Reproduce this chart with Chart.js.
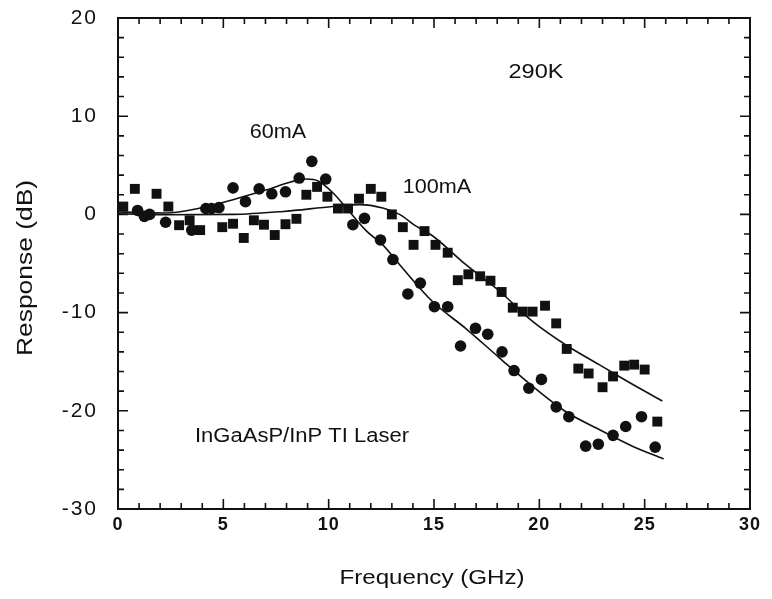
<!DOCTYPE html>
<html lang="en">
<head>
  <meta charset="UTF-8">
  <title>InGaAsP/InP TI Laser - Modulation Response</title>
  <script src="https://cdnjs.cloudflare.com/ajax/libs/Chart.js/4.4.1/chart.umd.min.js"></script>
  <style>
    body { margin: 0; background: #ffffff; }
    #wrap { width: 772px; height: 599px; }
  </style>
</head>
<body>
  <div id="wrap"><canvas id="responseChart" width="772" height="599"></canvas></div>

  <script>
    // Measured response, 60 mA (circles)
    const freq60 = [0.93, 1.25, 1.5, 2.26, 3.5, 4.17, 4.44, 4.79, 5.46, 6.05, 6.7, 7.3, 7.95, 8.6, 9.2, 9.86,
      11.15, 11.7, 12.46, 13.05, 13.76, 14.35, 15.02, 15.65, 16.26, 16.97, 17.55, 18.23, 18.8, 19.5,
      20.1, 20.8, 21.4, 22.2, 22.8, 23.5, 24.1, 24.85, 25.5];
    const resp60 = [0.4, -0.2, 0.0, -0.8, -1.6, 0.6, 0.6, 0.7, 2.7, 1.3, 2.6, 2.1, 2.3, 3.7, 5.4, 3.6,
      -1.05, -0.4, -2.6, -4.6, -8.1, -7.0, -9.4, -9.4, -13.4, -11.6, -12.2, -14.0, -15.9, -17.7,
      -16.8, -19.6, -20.6, -23.6, -23.4, -22.5, -21.6, -20.6, -23.7];

    // Measured response, 100 mA (squares)
    const freq100 = [0.25, 0.8, 1.83, 2.39, 2.9, 3.4, 3.9, 4.95, 5.46, 5.97, 6.45, 6.93, 7.44, 7.95, 8.47,
      8.94, 9.45, 9.94, 10.44, 10.92, 11.44, 12.0, 12.5, 13.0, 13.52, 14.03, 14.55, 15.07, 15.65, 16.13,
      16.63, 17.19, 17.68, 18.21, 18.74, 19.21, 19.68, 20.27, 20.8, 21.3, 21.85, 22.34, 23.0, 23.5,
      24.03, 24.5, 25.0, 25.6];
    const resp100 = [0.8, 2.6, 2.1, 0.8, -1.1, -0.6, -1.6, -1.3, -0.95, -2.4, -0.6, -1.05, -2.1, -1.0, -0.45,
      2.0, 2.8, 1.8, 0.6, 0.6, 1.6, 2.6, 1.8, 0.0, -1.3, -3.1, -1.7, -3.1, -3.9, -6.7,
      -6.1, -6.3, -6.75, -7.9, -9.5, -9.9, -9.9, -9.3, -11.1, -13.7, -15.7, -16.2, -17.6, -16.5,
      -15.4, -15.3, -15.8, -21.1];

    // Fitted curves
    const fitFreq60 = [0, 1, 2.3, 3.9, 5.46, 7.05, 8.2, 8.94, 9.5, 10.2, 10.84, 11.8, 12.57, 13.36,
      14.94, 16.5, 18.1, 19.68, 21.26, 22.84, 24.42, 25.9];
    const fit60 = [0.25, 0.2, 0.15, 0.65, 1.5, 2.5, 3.3, 3.6, 3.4, 2.2, 0.65, -1.7, -3.1, -5.1,
      -8.9, -11.6, -14.6, -17.5, -20.1, -21.9, -23.6, -24.9];
    const fitFreq100 = [0, 2.3, 5.46, 7.83, 10.2, 11.47, 12.57, 13.36, 14.15, 14.94, 16.5, 18.1,
      19.68, 21.26, 22.84, 24.42, 25.84];
    const fit100 = [0.07, -0.03, 0, 0.3, 0.8, 1.0, 0.65, 0, -1.2, -2.2, -5.1, -7.8,
      -10.9, -13.3, -15.3, -17.3, -19.0];

    // Axis ticks
    const xTicks = [0, 5, 10, 15, 20, 25, 30];
    const yTicks = [-30, -20, -10, 0, 10, 20];

    const toPoints = (xs, ys) => xs.map((x, i) => ({ x: x, y: ys[i] }));
    const ink = '#111111';
    const baseFont = '"Liberation Sans", Arial, Helvetica, sans-serif';

    // Stretched text helper (the scan is a little wide)
    function drawText(ctx, str, cx, cy, size, sx, angle) {
      ctx.save();
      ctx.font = size + 'px ' + baseFont;
      ctx.fillStyle = ink;
      ctx.textAlign = 'center';
      ctx.textBaseline = 'middle';
      ctx.translate(cx, cy);
      if (angle) ctx.rotate(angle);
      ctx.scale(sx, 1);
      ctx.fillText(str, 0, 0);
      ctx.restore();
    }

    // Box frame, inward ticks and labels
    const framePlugin = {
      id: 'frame',
      afterDraw(chart) {
        const ctx = chart.ctx;
        const a = chart.chartArea;
        const x = chart.scales.x;
        const y = chart.scales.y;
        ctx.save();
        ctx.strokeStyle = ink;
        ctx.lineWidth = 2;
        ctx.strokeRect(a.left, a.top, a.right - a.left, a.bottom - a.top);
        ctx.lineWidth = 1.6;
        ctx.beginPath();
        for (let v = 1; v < 30; v++) {
          const len = v % 5 === 0 ? 10 : 6;
          const px = x.getPixelForValue(v);
          ctx.moveTo(px, a.bottom); ctx.lineTo(px, a.bottom - len);
          ctx.moveTo(px, a.top); ctx.lineTo(px, a.top + len);
        }
        for (let v = -28; v < 20; v += 2) {
          const len = v % 10 === 0 ? 10 : 6;
          const py = y.getPixelForValue(v);
          ctx.moveTo(a.left, py); ctx.lineTo(a.left + len, py);
          ctx.moveTo(a.right, py); ctx.lineTo(a.right - len, py);
        }
        ctx.stroke();
        ctx.restore();

        drawText(ctx, '290K', 536, 72, 21, 1.12);
        drawText(ctx, '60mA', 278, 132, 20, 1.08);
        drawText(ctx, '100mA', 437, 187, 20, 1.08);
        drawText(ctx, 'InGaAsP/InP TI Laser', 302, 436, 20, 1.1);
        drawText(ctx, 'Frequency (GHz)', 432, 578, 21, 1.15);
        drawText(ctx, 'Response (dB)', 26, 268, 22, 1.2, -Math.PI / 2);
      }
    };

    // Letter spacing on tick labels
    function spacedLabels(scale, spacing) {
      if (scale._spaced) return;
      scale._spaced = true;
      const orig = scale.drawLabels;
      scale.drawLabels = function (area) {
        this.ctx.save();
        this.ctx.letterSpacing = spacing;
        orig.call(this, area);
        this.ctx.restore();
      };
    }

    const ctx = document.getElementById('responseChart').getContext('2d');
    new Chart(ctx, {
      type: 'scatter',
      data: {
        datasets: [
          {
            label: '60mA fit',
            data: toPoints(fitFreq60, fit60),
            showLine: true,
            borderColor: ink,
            borderWidth: 1.6,
            pointRadius: 0,
            cubicInterpolationMode: 'monotone'
          },
          {
            label: '100mA fit',
            data: toPoints(fitFreq100, fit100),
            showLine: true,
            borderColor: ink,
            borderWidth: 1.6,
            pointRadius: 0,
            cubicInterpolationMode: 'monotone'
          },
          {
            label: '60mA',
            data: toPoints(freq60, resp60),
            pointStyle: 'circle',
            pointRadius: 5.8,
            backgroundColor: ink,
            borderColor: ink,
            borderWidth: 0
          },
          {
            label: '100mA',
            data: toPoints(freq100, resp100),
            pointStyle: 'rect',
            pointRadius: 7,
            backgroundColor: ink,
            borderColor: ink,
            borderWidth: 0
          }
        ]
      },
      options: {
        responsive: false,
        animation: false,
        layout: { padding: { top: 18, right: 22, left: 0, bottom: 0 } },
        plugins: {
          legend: { display: false },
          tooltip: { enabled: false }
        },
        scales: {
          x: {
            type: 'linear',
            min: 0,
            max: 30,
            afterBuildTicks: (s) => { s.ticks = xTicks.map(v => ({ value: v })); },
            afterFit: (s) => {
              s.height = 90;
              s.paddingLeft = 0;
              s.paddingRight = 0;
              spacedLabels(s, '1px');
            },
            grid: { display: false, drawTicks: false },
            border: { display: false },
            ticks: {
              color: ink,
              padding: 5,
              maxRotation: 0,
              font: { family: baseFont, size: 18, weight: 'bold' }
            }
          },
          y: {
            min: -30,
            max: 20,
            afterBuildTicks: (s) => { s.ticks = yTicks.map(v => ({ value: v })); },
            afterFit: (s) => {
              s.width = 118;
              s.paddingTop = 0;
              s.paddingBottom = 0;
              spacedLabels(s, '2px');
            },
            grid: { display: false, drawTicks: false },
            border: { display: false },
            ticks: {
              color: ink,
              padding: 20,
              font: { family: baseFont, size: 21 }
            }
          }
        }
      },
      plugins: [framePlugin]
    });
  </script>
</body>
</html>
